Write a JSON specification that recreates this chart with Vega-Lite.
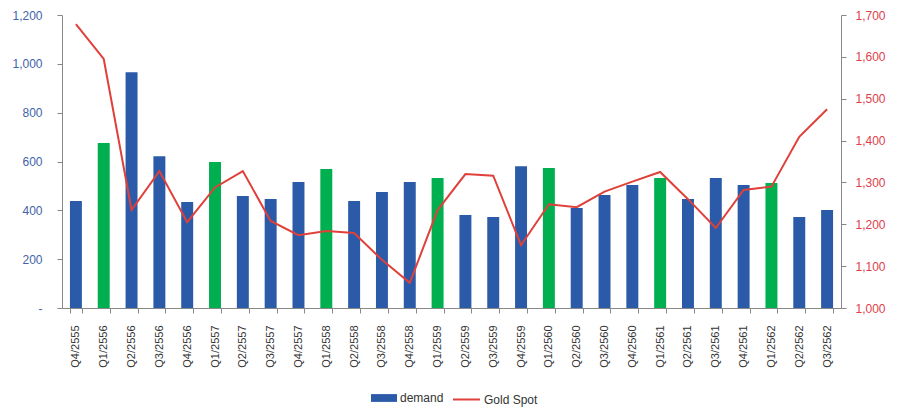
{
  "$schema": "https://vega.github.io/schema/vega-lite/v6.json",
  "width": 779,
  "height": 293,
  "autosize": {"type": "none"},
  "padding": {"left": 62, "top": 15, "right": 58, "bottom": 106},
  "background": "white",
  "config": {"font": "Liberation Sans", "view": {"stroke": null}},
  "data": {
    "values": [
      {"q": "Q4/2555", "demand": 438, "gold": 1678},
      {"q": "Q1/2556", "demand": 676, "gold": 1595},
      {"q": "Q2/2556", "demand": 966, "gold": 1234},
      {"q": "Q3/2556", "demand": 622, "gold": 1327},
      {"q": "Q4/2556", "demand": 434, "gold": 1205},
      {"q": "Q1/2557", "demand": 598, "gold": 1288},
      {"q": "Q2/2557", "demand": 459, "gold": 1327},
      {"q": "Q3/2557", "demand": 446, "gold": 1208},
      {"q": "Q4/2557", "demand": 516, "gold": 1174},
      {"q": "Q1/2558", "demand": 569, "gold": 1184},
      {"q": "Q2/2558", "demand": 438, "gold": 1179},
      {"q": "Q3/2558", "demand": 475, "gold": 1115},
      {"q": "Q4/2558", "demand": 516, "gold": 1060},
      {"q": "Q1/2559", "demand": 532, "gold": 1234},
      {"q": "Q2/2559", "demand": 381, "gold": 1320},
      {"q": "Q3/2559", "demand": 373, "gold": 1316},
      {"q": "Q4/2559", "demand": 581, "gold": 1150},
      {"q": "Q1/2560", "demand": 573, "gold": 1248},
      {"q": "Q2/2560", "demand": 410, "gold": 1241},
      {"q": "Q3/2560", "demand": 463, "gold": 1278},
      {"q": "Q4/2560", "demand": 504, "gold": 1302},
      {"q": "Q1/2561", "demand": 532, "gold": 1325},
      {"q": "Q2/2561", "demand": 446, "gold": 1260},
      {"q": "Q3/2561", "demand": 532, "gold": 1191},
      {"q": "Q4/2561", "demand": 504, "gold": 1282},
      {"q": "Q1/2562", "demand": 512, "gold": 1290},
      {"q": "Q2/2562", "demand": 373, "gold": 1409},
      {"q": "Q3/2562", "demand": 401, "gold": 1475}
    ]
  },
  "encoding": {
    "x": {
      "field": "q",
      "type": "ordinal",
      "sort": null,
      "title": null,
      "scale": {"paddingInner": 0.57, "paddingOuter": 0.285},
      "axis": {
        "labelAngle": -90,
        "labelFontSize": 11,
        "labelColor": "#333333",
        "labelPadding": 12,
        "tickBand": "extent",
        "tickSize": 5,
        "tickColor": "#888888",
        "domainColor": "#888888",
        "grid": false
      }
    }
  },
  "layer": [
    {
      "mark": {"type": "bar"},
      "encoding": {
        "y": {
          "field": "demand",
          "type": "quantitative",
          "title": null,
          "scale": {"domain": [0, 1200]},
          "axis": {
            "values": [0, 200, 400, 600, 800, 1000, 1200],
            "labelExpr": "datum.value == 0 ? '-\u00a0\u00a0' : format(datum.value, ',')",
            "labelColor": "#3F63A8",
            "labelFontSize": 12,
            "labelPadding": 15,
            "tickSize": 5,
            "tickColor": "#888888",
            "domainColor": "#888888",
            "grid": false
          }
        },
        "fill": {
          "condition": {"test": "indexof(datum.q, 'Q1') == 0", "value": "#00B050"},
          "datum": "demand",
          "type": "nominal",
          "scale": {"domain": ["demand"], "range": ["#2B5BA8"]},
          "legend": {
            "title": null,
            "orient": "none",
            "legendX": 309,
            "legendY": 370,
            "padding": 0,
            "symbolType": "M-1,-0.3H1V0.3H-1Z",
            "symbolSize": 676,
            "symbolStrokeWidth": 0,
            "labelFontSize": 12,
            "labelColor": "#333333",
            "labelOffset": 3
          }
        }
      }
    },
    {
      "mark": {"type": "line", "strokeWidth": 2},
      "encoding": {
        "y": {
          "field": "gold",
          "type": "quantitative",
          "title": null,
          "scale": {"domain": [1000, 1700]},
          "axis": {
            "orient": "right",
            "values": [1000, 1100, 1200, 1300, 1400, 1500, 1600, 1700],
            "labelExpr": "format(datum.value, ',')",
            "labelColor": "#E0404A",
            "labelFontSize": 12,
            "labelPadding": 9,
            "tickSize": 5,
            "tickColor": "#888888",
            "domainColor": "#888888",
            "grid": false
          }
        },
        "stroke": {
          "datum": "Gold Spot",
          "type": "nominal",
          "scale": {"domain": ["Gold Spot"], "range": ["#E0403A"]},
          "legend": {
            "title": null,
            "orient": "none",
            "legendX": 390,
            "legendY": 370,
            "padding": 0,
            "symbolType": "stroke",
            "symbolSize": 729,
            "symbolStrokeWidth": 2,
            "labelFontSize": 12,
            "labelColor": "#333333",
            "labelOffset": 3
          }
        }
      }
    }
  ],
  "resolve": {"scale": {"y": "independent"}}
}
